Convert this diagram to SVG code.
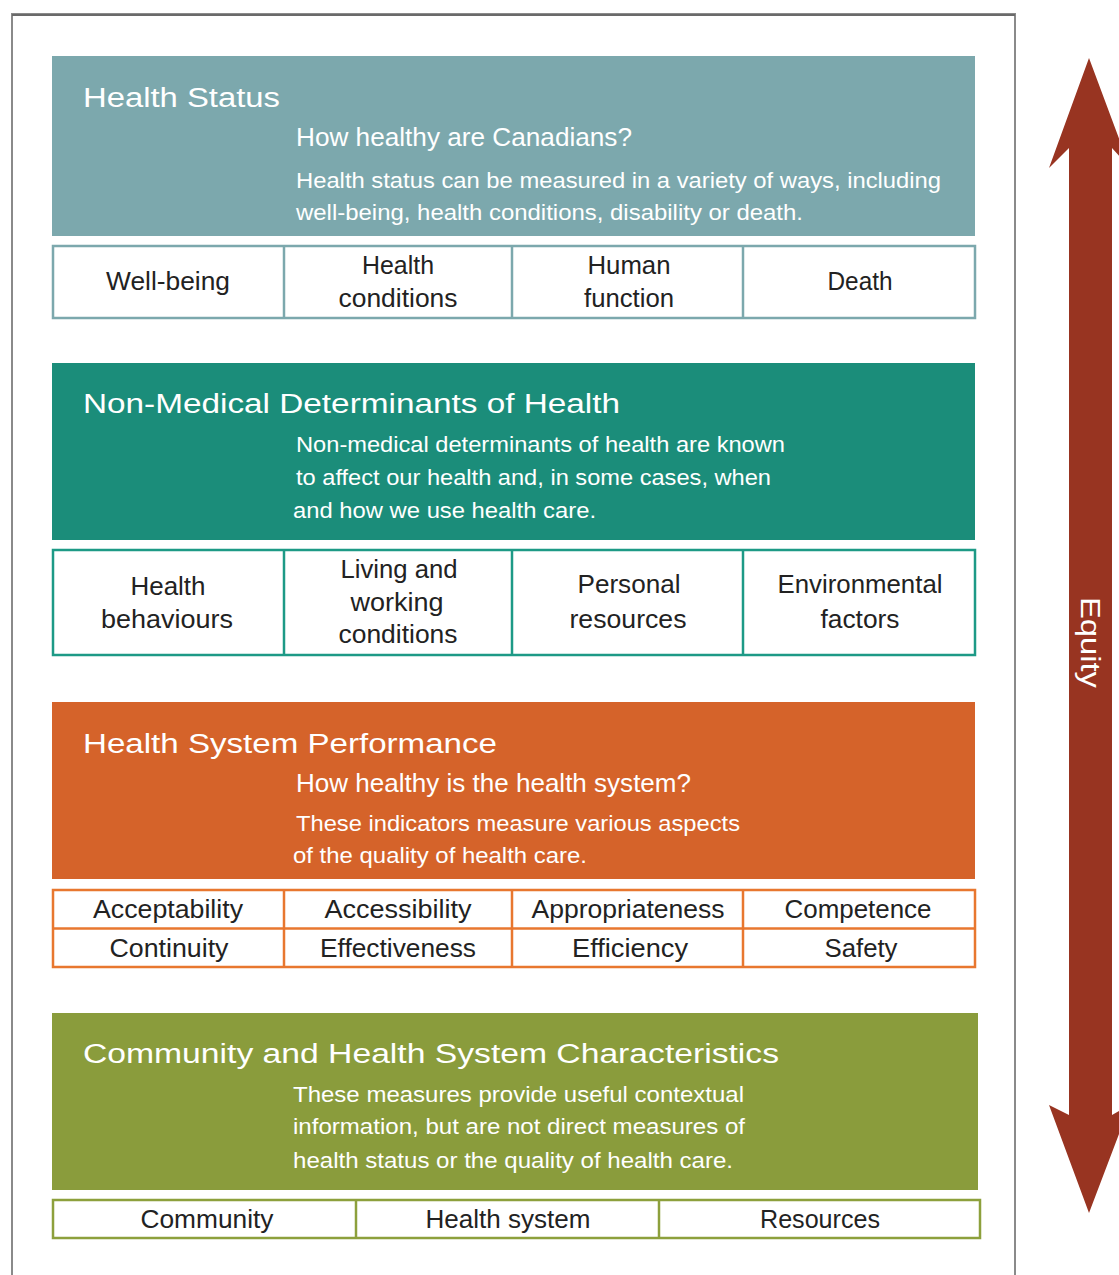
<svg xmlns="http://www.w3.org/2000/svg" width="1119" height="1275" viewBox="0 0 1119 1275">
<style>
text{font-family:"Liberation Sans",Arial,sans-serif}
.ttl{fill:#fff;font-size:27px}
.sub{fill:#fff;font-size:25px}
.dsc{fill:#fff;font-size:22px}
.cell{fill:#222;font-size:25px;text-anchor:middle}
.cb{fill:#fff;stroke-width:2.5}
</style>
<rect x="12" y="14" width="1003" height="1270" fill="#fff" stroke="#8a8a8a" stroke-width="2"/>
<line x1="12" y1="15" x2="1015" y2="15" stroke="#6a6a6a" stroke-width="2"/>

<g id="health-status">
<rect x="52" y="56" width="923" height="180" fill="#7ca8ad"/>
<text class="ttl" x="83" y="107" textLength="197" lengthAdjust="spacingAndGlyphs">Health Status</text>
<text class="sub" x="296" y="146" textLength="336" lengthAdjust="spacingAndGlyphs">How healthy are Canadians?</text>
<text class="dsc" x="296" y="188" textLength="645" lengthAdjust="spacingAndGlyphs">Health status can be measured in a variety of ways, including</text>
<text class="dsc" x="296" y="220" textLength="507" lengthAdjust="spacingAndGlyphs">well-being, health conditions, disability or death.</text>
</g>
<g id="health-status-cells">
<rect class="cb" x="53" y="246" width="922" height="72" stroke="#7ca8ad"/>
<line x1="284" y1="246" x2="284" y2="318" stroke="#7ca8ad" stroke-width="2.5"/>
<line x1="512" y1="246" x2="512" y2="318" stroke="#7ca8ad" stroke-width="2.5"/>
<line x1="743" y1="246" x2="743" y2="318" stroke="#7ca8ad" stroke-width="2.5"/>
<text class="cell" x="168" y="290" textLength="124" lengthAdjust="spacingAndGlyphs">Well-being</text>
<text class="cell" x="398" y="274" textLength="72" lengthAdjust="spacingAndGlyphs">Health</text>
<text class="cell" x="398" y="307" textLength="119" lengthAdjust="spacingAndGlyphs">conditions</text>
<text class="cell" x="629" y="274" textLength="83" lengthAdjust="spacingAndGlyphs">Human</text>
<text class="cell" x="629" y="307" textLength="90" lengthAdjust="spacingAndGlyphs">function</text>
<text class="cell" x="860" y="290" textLength="65" lengthAdjust="spacingAndGlyphs">Death</text>
</g>

<g id="non-medical">
<rect x="52" y="363" width="923" height="177" fill="#1b8d7a"/>
<text class="ttl" x="83" y="413" textLength="537" lengthAdjust="spacingAndGlyphs">Non-Medical Determinants of Health</text>
<text class="dsc" x="296" y="452" textLength="489" lengthAdjust="spacingAndGlyphs">Non-medical determinants of health are known</text>
<text class="dsc" x="296" y="485" textLength="475" lengthAdjust="spacingAndGlyphs">to affect our health and, in some cases, when</text>
<text class="dsc" x="293" y="518" textLength="303" lengthAdjust="spacingAndGlyphs">and how we use health care.</text>
</g>
<g id="non-medical-cells">
<rect class="cb" x="53" y="550" width="922" height="105" stroke="#1d9a86"/>
<line x1="284" y1="550" x2="284" y2="655" stroke="#1d9a86" stroke-width="2.5"/>
<line x1="512" y1="550" x2="512" y2="655" stroke="#1d9a86" stroke-width="2.5"/>
<line x1="743" y1="550" x2="743" y2="655" stroke="#1d9a86" stroke-width="2.5"/>
<text class="cell" x="168" y="595" textLength="75" lengthAdjust="spacingAndGlyphs">Health</text>
<text class="cell" x="167" y="628" textLength="132" lengthAdjust="spacingAndGlyphs">behaviours</text>
<text class="cell" x="399" y="578" textLength="117" lengthAdjust="spacingAndGlyphs">Living and</text>
<text class="cell" x="397" y="611" textLength="93" lengthAdjust="spacingAndGlyphs">working</text>
<text class="cell" x="398" y="643" textLength="119" lengthAdjust="spacingAndGlyphs">conditions</text>
<text class="cell" x="629" y="593" textLength="103" lengthAdjust="spacingAndGlyphs">Personal</text>
<text class="cell" x="628" y="628" textLength="117" lengthAdjust="spacingAndGlyphs">resources</text>
<text class="cell" x="860" y="593" textLength="165" lengthAdjust="spacingAndGlyphs">Environmental</text>
<text class="cell" x="860" y="628" textLength="79" lengthAdjust="spacingAndGlyphs">factors</text>
</g>

<g id="system-performance">
<rect x="52" y="702" width="923" height="177" fill="#d5632a"/>
<text class="ttl" x="83" y="753" textLength="414" lengthAdjust="spacingAndGlyphs">Health System Performance</text>
<text class="sub" x="296" y="792" textLength="395" lengthAdjust="spacingAndGlyphs">How healthy is the health system?</text>
<text class="dsc" x="296" y="831" textLength="444" lengthAdjust="spacingAndGlyphs">These indicators measure various aspects</text>
<text class="dsc" x="293" y="863" textLength="294" lengthAdjust="spacingAndGlyphs">of the quality of health care.</text>
</g>
<g id="system-performance-cells">
<rect class="cb" x="53" y="890" width="922" height="77" stroke="#e8772f"/>
<line x1="53" y1="928.5" x2="975" y2="928.5" stroke="#e8772f" stroke-width="2.5"/>
<line x1="284" y1="890" x2="284" y2="967" stroke="#e8772f" stroke-width="2.5"/>
<line x1="512" y1="890" x2="512" y2="967" stroke="#e8772f" stroke-width="2.5"/>
<line x1="743" y1="890" x2="743" y2="967" stroke="#e8772f" stroke-width="2.5"/>
<text class="cell" x="168" y="918" textLength="150" lengthAdjust="spacingAndGlyphs">Acceptability</text>
<text class="cell" x="398" y="918" textLength="147" lengthAdjust="spacingAndGlyphs">Accessibility</text>
<text class="cell" x="628" y="918" textLength="193" lengthAdjust="spacingAndGlyphs">Appropriateness</text>
<text class="cell" x="858" y="918" textLength="147" lengthAdjust="spacingAndGlyphs">Competence</text>
<text class="cell" x="169" y="957" textLength="119" lengthAdjust="spacingAndGlyphs">Continuity</text>
<text class="cell" x="398" y="957" textLength="156" lengthAdjust="spacingAndGlyphs">Effectiveness</text>
<text class="cell" x="630" y="957" textLength="116" lengthAdjust="spacingAndGlyphs">Efficiency</text>
<text class="cell" x="861" y="957" textLength="73" lengthAdjust="spacingAndGlyphs">Safety</text>
</g>

<g id="community">
<rect x="52" y="1013" width="926" height="177" fill="#8a9c3c"/>
<text class="ttl" x="83" y="1063" textLength="696" lengthAdjust="spacingAndGlyphs">Community and Health System Characteristics</text>
<text class="dsc" x="293" y="1102" textLength="451" lengthAdjust="spacingAndGlyphs">These measures provide useful contextual</text>
<text class="dsc" x="293" y="1134" textLength="452" lengthAdjust="spacingAndGlyphs">information, but are not direct measures of</text>
<text class="dsc" x="293" y="1168" textLength="440" lengthAdjust="spacingAndGlyphs">health status or the quality of health care.</text>
</g>
<g id="community-cells">
<rect class="cb" x="53" y="1200" width="927" height="38" stroke="#8da03c"/>
<line x1="356" y1="1200" x2="356" y2="1238" stroke="#8da03c" stroke-width="2.5"/>
<line x1="659" y1="1200" x2="659" y2="1238" stroke="#8da03c" stroke-width="2.5"/>
<text class="cell" x="207" y="1228" textLength="133" lengthAdjust="spacingAndGlyphs">Community</text>
<text class="cell" x="508" y="1228" textLength="165" lengthAdjust="spacingAndGlyphs">Health system</text>
<text class="cell" x="820" y="1228" textLength="120" lengthAdjust="spacingAndGlyphs">Resources</text>
</g>

<g id="equity-arrow">
<polygon points="1089,58 1130,168 1112,148 1112,1115 1130,1105 1089,1213 1049,1105 1069,1115 1069,148 1049,168" fill="#983421"/>
<text x="0" y="0" transform="translate(1081,597) rotate(90)" fill="#fff" font-size="27" textLength="91" lengthAdjust="spacingAndGlyphs">Equity</text>
</g>
</svg>
